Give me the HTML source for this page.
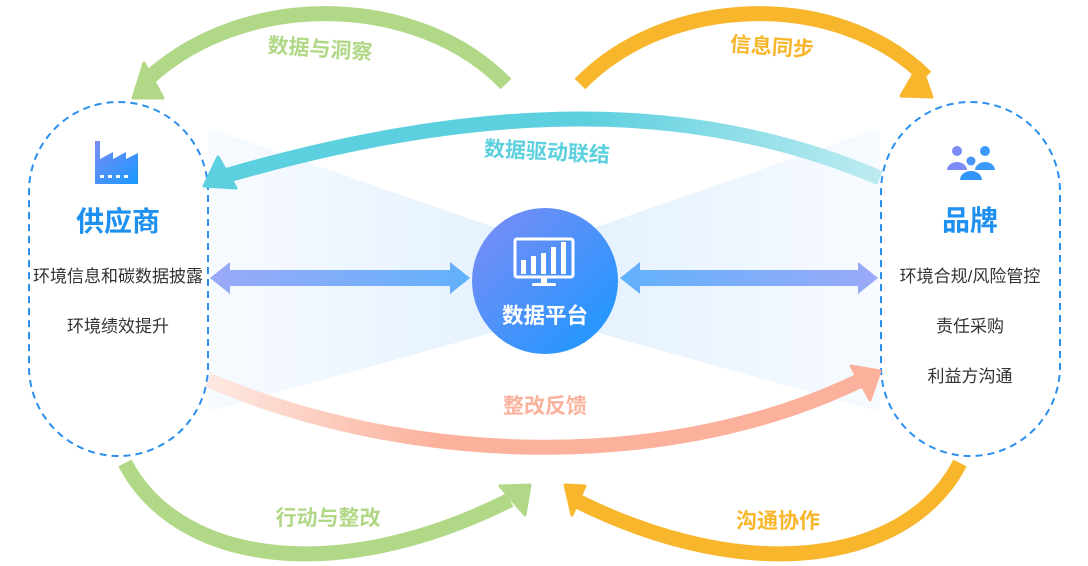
<!DOCTYPE html>
<html><head><meta charset="utf-8"><style>
html,body{margin:0;padding:0;background:#fff;}
svg{display:block;font-family:"Liberation Sans","Noto Sans CJK SC",sans-serif;}
</style></head><body>
<svg width="1088" height="566" viewBox="0 0 1088 566" xmlns="http://www.w3.org/2000/svg">
<defs>
<linearGradient id="fanL" x1="0" y1="0" x2="1" y2="0"><stop offset="0" stop-color="#f7fbff"/><stop offset="1" stop-color="#e2f0fd"/></linearGradient>
<linearGradient id="fanR" x1="1" y1="0" x2="0" y2="0"><stop offset="0" stop-color="#f7fbff"/><stop offset="1" stop-color="#e2f0fd"/></linearGradient>
<linearGradient id="circ" x1="0" y1="0" x2="1" y2="1"><stop offset="0" stop-color="#7f8cf5"/><stop offset="1" stop-color="#1798ff"/></linearGradient>
<linearGradient id="harr" x1="0" y1="0" x2="1" y2="0"><stop offset="0" stop-color="#9aa9f8"/><stop offset="1" stop-color="#62b1fb"/></linearGradient>
<linearGradient id="harr2" x1="0" y1="0" x2="1" y2="0"><stop offset="0" stop-color="#62b1fb"/><stop offset="1" stop-color="#9aa9f8"/></linearGradient>
<linearGradient id="cyan" x1="0" y1="0" x2="1" y2="0"><stop offset="0" stop-color="#5cd0de"/><stop offset="0.55" stop-color="#5cd0de"/><stop offset="1" stop-color="#bdebf1"/></linearGradient>
<linearGradient id="salmon" x1="0" y1="0" x2="1" y2="0"><stop offset="0" stop-color="#fde9e2"/><stop offset="0.35" stop-color="#fbb19b"/><stop offset="1" stop-color="#fbb19b"/></linearGradient>
<linearGradient id="ic" x1="0" y1="0" x2="1" y2="1"><stop offset="0" stop-color="#7b8cf5"/><stop offset="1" stop-color="#1798ff"/></linearGradient>
</defs>

<polygon points="208,128 545,245 545,318 208,412" fill="url(#fanL)"/>
<polygon points="880,128 545,245 545,318 880,412" fill="url(#fanR)"/>

<rect x="29" y="102" width="179" height="354" rx="89.5" fill="none" stroke="#2b8ff0" stroke-width="2" stroke-dasharray="7,5"/>
<rect x="881" y="102" width="179" height="354" rx="89.5" fill="none" stroke="#2b8ff0" stroke-width="2" stroke-dasharray="7,5"/>

<path d="M506,84 C420,-5 250,-12 150,77" fill="none" stroke="#b1d886" stroke-width="15"/>
<polygon points="144,63 133,98 163,98" fill="#b1d886" stroke="#b1d886" stroke-width="3" stroke-linejoin="round"/>
<path d="M580,84 C666,-5 836,-12 926,77" fill="none" stroke="#f8b62d" stroke-width="15"/>
<polygon points="920,63 932,97 901,96" fill="#f8b62d" stroke="#f8b62d" stroke-width="3" stroke-linejoin="round"/>

<path d="M880,178 C720,110 520,90 225,176" fill="none" stroke="url(#cyan)" stroke-width="15"/>
<polygon points="218,157 204,186 236,188" fill="#5cd0de" stroke="#5cd0de" stroke-width="3" stroke-linejoin="round"/>

<path d="M208,380 C420,470 680,470 865,378" fill="none" stroke="url(#salmon)" stroke-width="15"/>
<polygon points="851,366 880,371 870,400" fill="#fbb19b" stroke="#fbb19b" stroke-width="3" stroke-linejoin="round"/>

<path d="M125,463 C175,560 330,590 510,500" fill="none" stroke="#b1d886" stroke-width="15"/>
<polygon points="500,486 530,485 525,515" fill="#b1d886" stroke="#b1d886" stroke-width="3" stroke-linejoin="round"/>
<path d="M960,463 C910,560 755,590 575,500" fill="none" stroke="#f8b62d" stroke-width="15"/>
<polygon points="585,486 565,485 572,515" fill="#f8b62d" stroke="#f8b62d" stroke-width="3" stroke-linejoin="round"/>

<polygon points="210,278 230,262 230,270 450,270 450,262 470,278 450,294 450,286 230,286 230,294" fill="url(#harr)"/>
<polygon points="620,278 640,262 640,270 858,270 858,262 878,278 858,294 858,286 640,286 640,294" fill="url(#harr2)"/>

<circle cx="545" cy="281" r="73" fill="url(#circ)"/>
<rect x="515" y="239" width="58" height="38" rx="2" fill="none" stroke="#fff" stroke-width="3"/>
<rect x="521" y="260" width="5" height="14" fill="#fff"/>
<rect x="531" y="256" width="5" height="18" fill="#fff"/>
<rect x="541" y="253" width="5" height="21" fill="#fff"/>
<rect x="551" y="247" width="5" height="27" fill="#fff"/>
<rect x="561" y="242" width="5" height="32" fill="#fff"/>
<rect x="541" y="277" width="6" height="6" fill="#fff"/>
<rect x="532" y="283" width="24" height="3" rx="1.5" fill="#fff"/>
<text x="545" y="323" font-size="21.5" font-weight="bold" fill="#fff" text-anchor="middle">数据平台</text>

<text x="320" y="56" font-size="21" font-weight="bold" fill="#b1d886" text-anchor="middle" transform="rotate(4 320 48)">数据与洞察</text>
<text x="772" y="54" font-size="21" font-weight="bold" fill="#f8b62d" text-anchor="middle" transform="rotate(4 772 46)">信息同步</text>
<text x="547" y="159" font-size="21" font-weight="bold" fill="#5cd0de" text-anchor="middle" transform="rotate(3 547 151)">数据驱动联结</text>
<text x="545" y="413" font-size="21" font-weight="bold" fill="#fbb19b" text-anchor="middle">整改反馈</text>
<text x="328" y="525" font-size="21" font-weight="bold" fill="#b1d886" text-anchor="middle">行动与整改</text>
<text x="778" y="528" font-size="21" font-weight="bold" fill="#f8b62d" text-anchor="middle">沟通协作</text>

<path d="M95,141 h5 v18 l13,-7 v7 l13,-7 v7 l12,-6 v31 h-43 z" fill="url(#ic)"/>
<rect x="100" y="175" width="4" height="3" fill="#fff"/><rect x="108" y="175" width="4" height="3" fill="#fff"/><rect x="116" y="175" width="4" height="3" fill="#fff"/><rect x="124" y="175" width="4" height="3" fill="#fff"/>
<text x="118" y="231" font-size="28" font-weight="bold" fill="#1e90f0" text-anchor="middle">供应商</text>
<text x="118" y="282" font-size="17" fill="#333" text-anchor="middle">环境信息和碳数据披露</text>
<text x="118" y="332" font-size="17" fill="#333" text-anchor="middle">环境绩效提升</text>

<circle cx="957" cy="151" r="5" fill="#7d8cf5"/><path d="M947,170 a10,8 0 0 1 20,0 z" fill="#7d8cf5"/>
<circle cx="985" cy="151" r="5" fill="#3a9af9"/><path d="M975,170 a10,8 0 0 1 20,0 z" fill="#3a9af9"/>
<circle cx="971" cy="161" r="5.5" fill="#fff"/><circle cx="971" cy="161" r="4.5" fill="#4896f8"/>
<path d="M959,181 a12,10 0 0 1 24,0 z" fill="#fff"/><path d="M960,180 a11,9 0 0 1 22,0 z" fill="#3096fa"/>
<text x="970" y="230" font-size="28" font-weight="bold" fill="#1e90f0" text-anchor="middle">品牌</text>
<text x="970" y="282" font-size="17" fill="#333" text-anchor="middle">环境合规/风险管控</text>
<text x="970" y="332" font-size="17" fill="#333" text-anchor="middle">责任采购</text>
<text x="970" y="382" font-size="17" fill="#333" text-anchor="middle">利益方沟通</text>
</svg>
</body></html>
